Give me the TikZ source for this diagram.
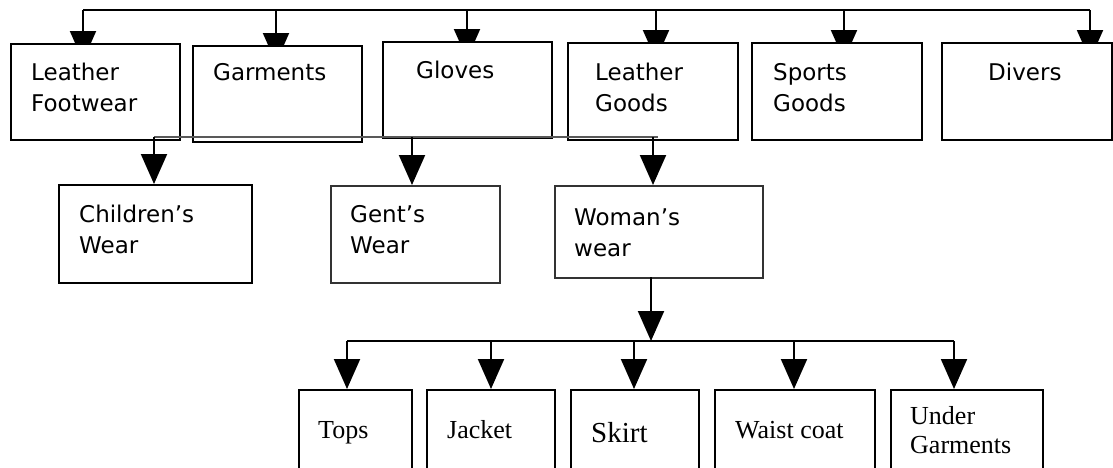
\documentclass[tikz,border=0pt]{standalone}
\usepackage{fontspec}
\setmainfont{DejaVu Sans}
\newfontfamily\serifface{Liberation Serif}
\usetikzlibrary{arrows.meta,calc,backgrounds}

\tikzset{
  boxbase/.style={fill=white, inner sep=0pt, anchor=north west},
  topbox/.style={boxbase, draw=black, line width=2.4pt},
  midbox/.style={boxbase, draw=black!80, line width=1.6pt},
  lowbox/.style={boxbase, draw=black, line width=1.8pt},
  % labels are placed by the baseline of their last line
  sanslabel/.style={inner sep=0pt, anchor=base west, align=left,
    font=\fontsize{23}{31}\selectfont},
  seriflabel/.style={inner sep=0pt, anchor=base west, align=left,
    font=\serifface\fontsize{26}{29}\selectfont},
  conn/.style={draw=black, line width=2pt},
  arr/.style={conn, -{Triangle[width=26pt,length=30pt]}},
  feeder/.style={draw=black!65, line width=1.6pt}
}

\begin{document}
\begin{tikzpicture}[x=1pt,y=-1pt]
\useasboundingbox (0,0) rectangle (1113,467);

% product groups
\node[topbox, minimum width=169pt, minimum height=96pt] (lf) at (10,43) {};
\node[topbox, minimum width=169pt, minimum height=96pt] (ga) at (192,45) {};
\node[topbox, minimum width=169pt, minimum height=96pt] (gl) at (382,41) {};
\node[topbox, minimum width=170pt, minimum height=97pt] (lg) at (567,42) {};
\node[topbox, minimum width=170pt, minimum height=97pt] (sg) at (751,42) {};
\node[topbox, minimum width=170pt, minimum height=97pt] (dv) at (941,42) {};

\node[sanslabel] (lf-t) at (31,111) {Leather\\Footwear};
\node[sanslabel] (ga-t) at (213,80) {Garments};
\node[sanslabel] (gl-t) at (416,78) {Gloves};
\node[sanslabel] (lg-t) at (595,111) {Leather\\Goods};
\node[sanslabel] (sg-t) at (773,111) {Sports\\Goods};
\node[sanslabel] (dv-t) at (988,80) {Divers};

% garment lines
\node[topbox, minimum width=193pt, minimum height=98pt] (ch) at (58,184) {};
\node[midbox, minimum width=169pt, minimum height=97pt] (gw) at (330,185) {};
\node[midbox, minimum width=208pt, minimum height=92pt] (wo) at (554,185) {};

\node[sanslabel] (ch-t) at (79,253) {Children’s\\Wear};
\node[sanslabel] (gw-t) at (350,253) {Gent’s\\Wear};
\node[sanslabel] (wo-t) at (574,256) {Woman’s\\wear};

% woman's wear items
\node[lowbox, minimum width=113pt, minimum height=101pt] (tp) at (298,389) {};
\node[lowbox, minimum width=128pt, minimum height=101pt] (jk) at (426,389) {};
\node[lowbox, minimum width=128pt, minimum height=101pt] (sk) at (570,389) {};
\node[lowbox, minimum width=160pt, minimum height=101pt] (wc) at (714,389) {};
\node[lowbox, minimum width=152pt, minimum height=101pt] (ug) at (890,389) {};

\node[seriflabel] (tp-t) at (318,438) {Tops};
\node[seriflabel] (jk-t) at (447,438) {Jacket};
\node[seriflabel, font=\serifface\fontsize{29}{32}\selectfont] (sk-t) at (591,442) {Skirt};
\node[seriflabel] (wc-t) at (735,438) {Waist coat};
\node[seriflabel] (ug-t) at (910,453) {Under\\Garments};

% top distribution bus
\coordinate (tLF) at (83,10);
\coordinate (tGA) at (276,10);
\coordinate (tGL) at (467,10);
\coordinate (tLG) at (656,10);
\coordinate (tSG) at (844,10);
\coordinate (tDV) at (1090,10);

\begin{scope}[on background layer]
  \draw[conn] (tLF) -- (tDV);
  \foreach \t/\b in {tLF/lf, tGA/ga, tGL/gl, tLG/lg, tSG/sg, tDV/dv}
    \draw[arr] (\t) -- ([yshift=-18pt]\t |- \b.north);
\end{scope}

% garment feeder line along the box bottoms
\coordinate (mCH) at (154,137);
\coordinate (mGW) at (412,137);
\coordinate (mWO) at (653,137);
\coordinate (mEnd) at (658,137);
\draw[feeder] (mCH) -- (mEnd);
\draw[arr] (mCH) -- (mCH |- ch.north);
\draw[arr] (mGW) -- (mGW |- gw.north);
\draw[arr] (mWO) -- (mWO |- wo.north);

% woman's wear to its items
\coordinate (wDrop) at (651,277);
\coordinate (bTP) at (347,341);
\coordinate (bJK) at (491,341);
\coordinate (bSK) at (634,341);
\coordinate (bWC) at (794,341);
\coordinate (bUG) at (954,341);
\draw[arr] (wDrop) -- (wDrop |- bTP);
\draw[conn] (bTP) -- (bUG);
\foreach \c/\b in {bTP/tp, bJK/jk, bSK/sk, bWC/wc, bUG/ug}
  \draw[arr] (\c) -- (\c |- \b.north);
\end{tikzpicture}
\end{document}
